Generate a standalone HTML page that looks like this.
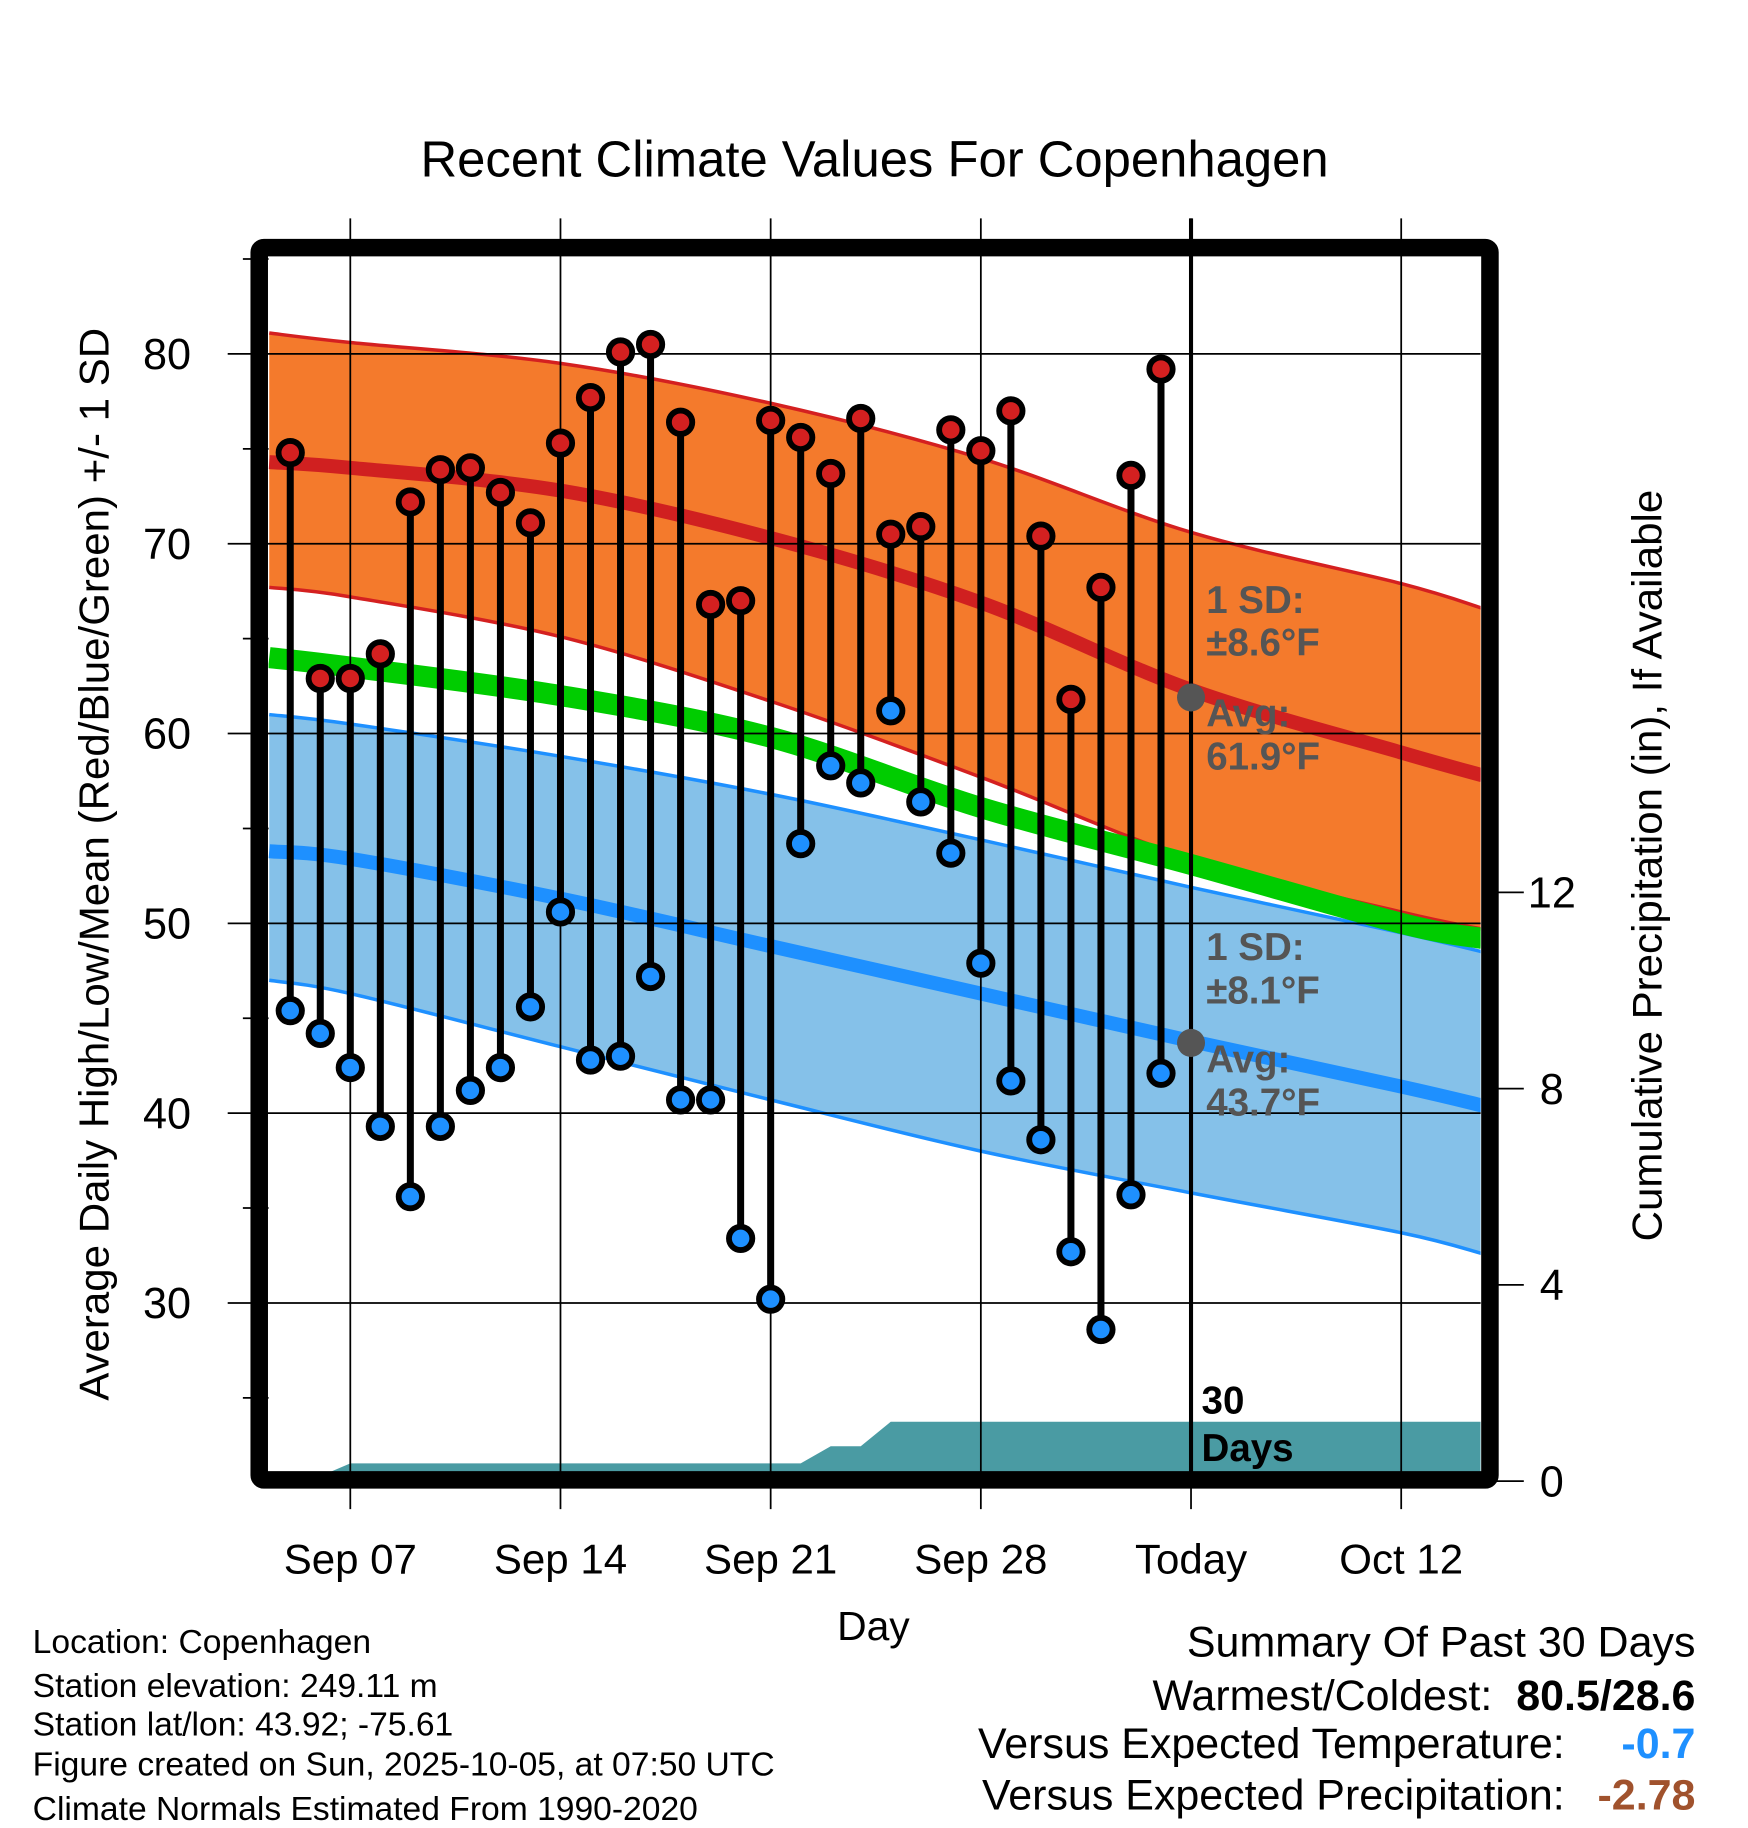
<!DOCTYPE html>
<html><head><meta charset="utf-8"><style>
html,body{margin:0;padding:0;background:#fff;}
svg{display:block;font-family:"Liberation Sans",Arial,sans-serif;}
</style></head>
<body>
<svg id="chart" width="1748" height="1828" viewBox="0 0 1497 1565" preserveAspectRatio="none" xmlns="http://www.w3.org/2000/svg">
<text x="749" y="151" font-size="43.5" text-anchor="middle">Recent Climate Values For Copenhagen</text>
<g id="plot"></g>
<text transform="translate(93,740) rotate(-90)" font-size="36" text-anchor="middle">Average Daily High/Low/Mean (Red/Blue/Green) +/- 1 SD</text>
<text transform="translate(1423,741) rotate(-90)" font-size="36" text-anchor="middle">Cumulative Precipitation (in), If Available</text>
<text x="748" y="1404" font-size="35" text-anchor="middle">Day</text>
<g font-size="28.8">
<text x="28" y="1415">Location: Copenhagen</text>
<text x="28" y="1453">Station elevation: 249.11 m</text>
<text x="28" y="1486">Station lat/lon: 43.92; -75.61</text>
<text x="28" y="1520">Figure created on Sun, 2025-10-05, at 07:50 UTC</text>
<text x="28" y="1558">Climate Normals Estimated From 1990-2020</text>
</g>
<g font-size="36.8" text-anchor="end">
<text x="1452" y="1418">Summary Of Past 30 Days</text>
<text x="1278" y="1464">Warmest/Coldest:</text>
<text x="1452" y="1464" font-weight="bold">80.5/28.6</text>
<text x="1340" y="1505">Versus Expected Temperature:</text>
<text x="1452" y="1505" font-weight="bold" fill="#1e90ff">-0.7</text>
<text x="1340" y="1549">Versus Expected Precipitation:</text>
<text x="1452" y="1549" font-weight="bold" fill="#a0522d">-2.78</text>
</g>
</svg>
<script>
// ---- data ----
const normDays = [4.3, 7, 14, 21, 28, 35, 42, 44.7]; // days since Aug 31 (Sep 1 = 1)
const highUpper = [81.1, 80.6, 79.5, 77.4, 74.5, 70.6, 67.9, 66.6];
const highMean  = [74.3, 74.0, 72.8, 70.3, 66.9, 62.3, 59.0, 57.8];
const highLower = [67.7, 67.2, 65.1, 61.7, 57.7, 53.4, 50.6, 49.7];
const meanLine  = [64.0, 63.5, 62.0, 59.8, 56.1, 53.1, 50.0, 49.2];
const lowUpper  = [61.0, 60.5, 58.8, 56.8, 54.4, 51.9, 49.5, 48.5];
const lowMean   = [53.8, 53.4, 51.3, 48.8, 46.3, 43.8, 41.4, 40.4];
const lowLower  = [47.0, 46.3, 43.5, 40.7, 38.0, 35.8, 33.7, 32.6];
const obsDays = [5,6,7,8,9,10,11,12,13,14,15,16,17,18,19,20,21,22,23,24,25,26,27,28,29,30,31,32,33,34];
const highs = [74.8,62.9,62.9,64.2,72.2,73.9,74.0,72.7,71.1,75.3,77.7,80.1,80.5,76.4,66.8,67.0,76.5,75.6,73.7,76.6,70.5,70.9,76.0,74.9,77.0,70.4,61.8,67.7,73.6,79.2];
const lows  = [45.4,44.2,42.4,39.3,35.6,39.3,41.2,42.4,45.6,50.6,42.8,43.0,47.2,40.7,40.7,33.4,30.2,54.2,58.3,57.4,61.2,56.4,53.7,47.9,41.7,38.6,32.7,28.6,35.7,42.1];
const precip = [0,0.1,0.36,0.36,0.36,0.36,0.36,0.36,0.36,0.36,0.36,0.36,0.36,0.36,0.36,0.36,0.36,0.36,0.71,0.71,1.21,1.21,1.21,1.21,1.21,1.21,1.21,1.21,1.21,1.21];
const yTicks = [30,40,50,60,70,80];
const y2Ticks = [0,4,8,12];
const xTickDays = [7,14,21,28,35,42];
const xTickLabels = ["Sep 07","Sep 14","Sep 21","Sep 28","Today","Oct 12"];
const todayDay = 35;
const avgHigh = 61.9, avgLow = 43.7;

// ---- axes ----
const L=230,R=1268,T=219,B=1262;
const X = d => 300 + (d-7)*180/7;
const Y = v => 303 + (80-v)*16.25;
const P = v => 1268 - v*42;
const NS="http://www.w3.org/2000/svg";
const g=document.getElementById('plot');
function el(tag,attrs,parent){const e=document.createElementNS(NS,tag);for(const k in attrs)e.setAttribute(k,attrs[k]);(parent||g).appendChild(e);return e;}
function xy(days,vals){return days.map((d,i)=>[X(d),Y(vals[i])]);}
function smooth(p){ // catmull-rom path through points
  let s='';
  for(let i=0;i<p.length-1;i++){
    const p0=p[Math.max(0,i-1)],p1=p[i],p2=p[i+1],p3=p[Math.min(p.length-1,i+2)];
    const c1=[p1[0]+(p2[0]-p0[0])/6,p1[1]+(p2[1]-p0[1])/6];
    const c2=[p2[0]-(p3[0]-p1[0])/6,p2[1]-(p3[1]-p1[1])/6];
    s+=' C'+c1.join(',')+' '+c2.join(',')+' '+p2.join(',');
  }
  return s;
}
function linePath(p){return 'M'+p[0].join(',')+smooth(p);}
function bandPath(a,b){const br=b.slice().reverse();return 'M'+a[0].join(',')+smooth(a)+' L'+br[0].join(',')+smooth(br)+' Z';}

const defs=el('defs',{});
const cp=el('clipPath',{id:'clip'},defs);
el('rect',{x:L,y:T,width:R-L,height:B-T},cp);
const inner=el('g',{'clip-path':'url(#clip)'});

let e;
e=el('path',{d:bandPath(xy(normDays,highUpper),xy(normDays,highLower)),fill:'#f47a2c'},inner);


e=el('path',{d:bandPath(xy(normDays,lowUpper),xy(normDays,lowLower)),fill:'#85c1e9'},inner);


const lines=[[highUpper,'#d42020',3,'high-upper-line'],[highLower,'#d42020',3,'high-lower-line'],[highMean,'#d02020',12,'high-mean-line'],[lowUpper,'#1e90ff',3,'low-upper-line'],[lowLower,'#1e90ff',3,'low-lower-line'],[lowMean,'#1e90ff',12,'low-mean-line'],[meanLine,'#00cc00',18,'mean-line']];
lines.forEach(([v,c,w,n])=>{
  e=el('path',{d:linePath(xy(normDays,v)),fill:'none',stroke:c,'stroke-width':w},inner);
  
  
});
// precipitation
const pp=[X(obsDays[0])+','+P(0)];
obsDays.forEach((d,i)=>pp.push(X(d)+','+P(precip[i])));
pp.push(R+','+P(precip[precip.length-1]));pp.push(R+','+P(0));
e=el('polygon',{points:pp.join(' '),fill:'#4a9ba3'},inner);



// grid
yTicks.forEach(v=>{
  e=el('line',{x1:195,x2:R,y1:Y(v),y2:Y(v),stroke:'#000','stroke-width':1.5});
  
  
  e=el('text',{x:143,y:Y(v)+13,'font-size':37,'text-anchor':'middle'});e.textContent=v;
  
  
});
for(let v=25;v<=85;v+=10){el('line',{x1:208,x2:L,y1:Y(v),y2:Y(v),stroke:'#000','stroke-width':1.5});}
xTickDays.forEach((d,i)=>{
  e=el('line',{x1:X(d),x2:X(d),y1:187,y2:1292,stroke:'#000','stroke-width':1.5});
  
  
  e=el('text',{x:X(d),y:1347,'font-size':36,'text-anchor':'middle'});e.textContent=xTickLabels[i];
  
  
});
y2Ticks.forEach(v=>{
  el('line',{x1:1276,x2:1305,y1:P(v),y2:P(v),stroke:'#000','stroke-width':1.5});
  e=el('text',{x:1329,y:P(v)+13,'font-size':37,'text-anchor':'middle'});e.textContent=v;
  
  
});
// today line
e=el('line',{x1:X(todayDay),x2:X(todayDay),y1:187,y2:B,stroke:'#000','stroke-width':3.5});



// stems and markers
obsDays.forEach((d,i)=>{
  e=el('line',{x1:X(d),x2:X(d),y1:Y(highs[i]),y2:Y(lows[i]),stroke:'#000','stroke-width':6});
  
  
});
obsDays.forEach((d,i)=>{
  e=el('circle',{cx:X(d),cy:Y(highs[i]),r:10,fill:'#d42020',stroke:'#000','stroke-width':5});
  
  
  e=el('circle',{cx:X(d),cy:Y(lows[i]),r:10,fill:'#1e90ff',stroke:'#000','stroke-width':5});
  
  
});
[[avgHigh,'high'],[avgLow,'low']].forEach(([v,n])=>{
  e=el('circle',{cx:X(todayDay),cy:Y(v),r:12,fill:'#555'});
  
  
});
function ann(x,y,txt,name,fill){e=el('text',{x:x,y:y,'font-size':33,'font-weight':'bold',fill:fill||'#555'});e.textContent=txt;}
ann(1033,525,'1 SD:','high-sd-label');ann(1033,561,'±8.6°F','high-sd-value');
ann(1033,622,'Avg:','high-avg-label');ann(1033,659,'61.9°F','high-avg-value');
ann(1033,822,'1 SD:','low-sd-label');ann(1033,859,'±8.1°F','low-sd-value');
ann(1033,918,'Avg:','low-avg-label');ann(1033,955,'43.7°F','low-avg-value');
ann(1029,1210,'30','days-count','#000');ann(1029,1251,'Days','days-label','#000');

// frame
e=el('rect',{x:222,y:212,width:1054,height:1055,fill:'none',stroke:'#000','stroke-width':15,rx:4});


</script>
</body></html>
